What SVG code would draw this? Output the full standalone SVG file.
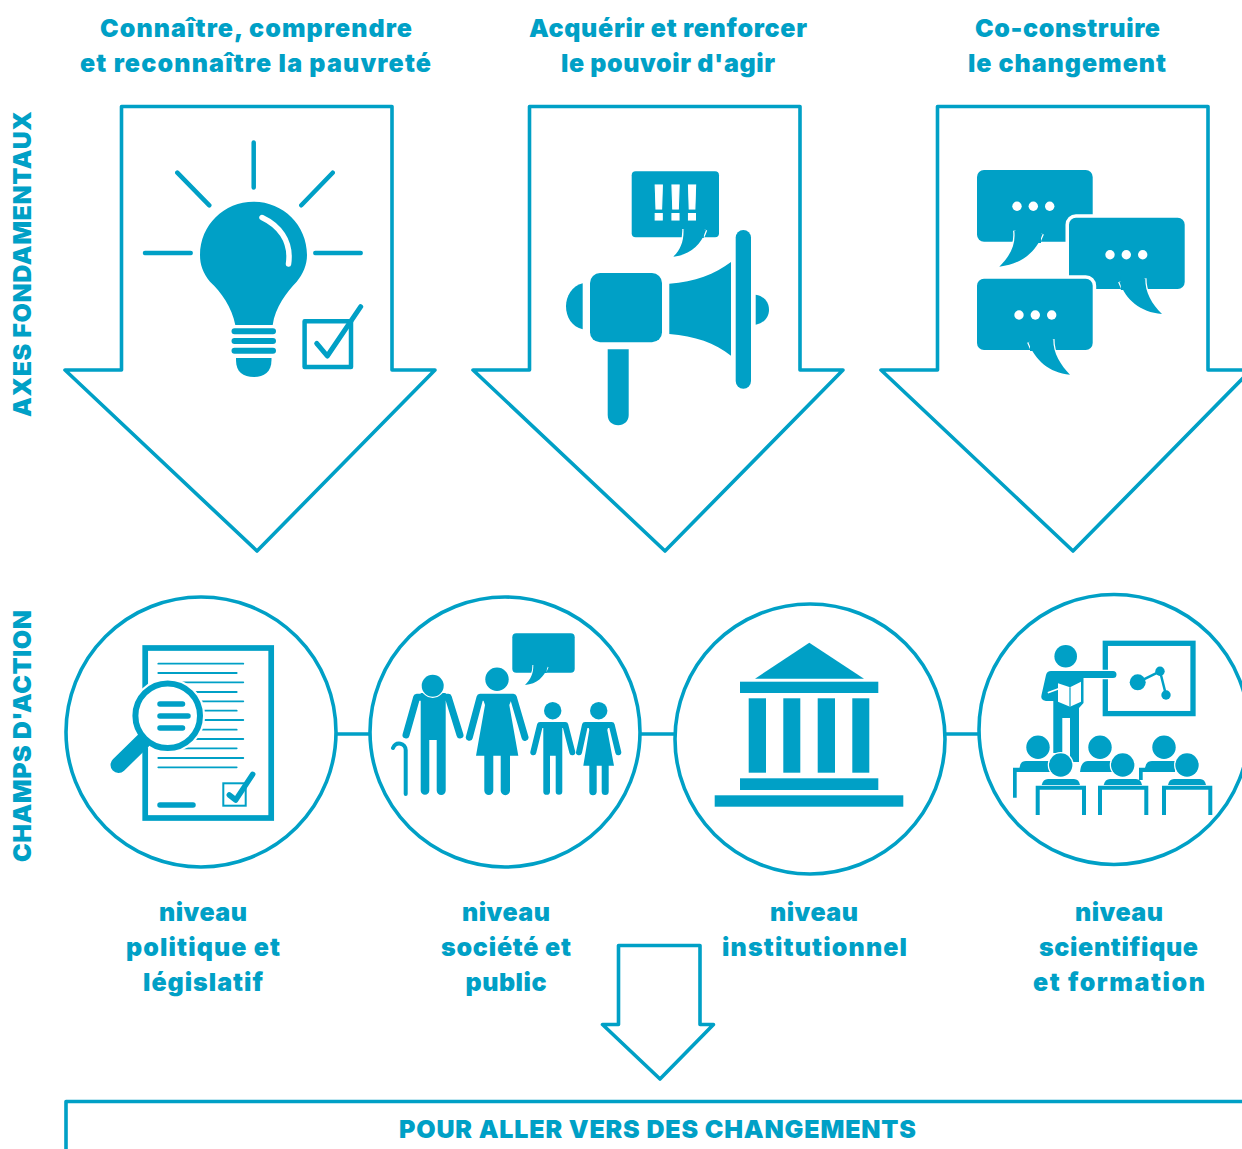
<svg xmlns="http://www.w3.org/2000/svg" width="1242" height="1149" viewBox="0 0 1242 1149">
<style>
text{font-family:"Inter","Lato","Liberation Sans",sans-serif;font-weight:900;fill:#00a0c6;text-anchor:middle}
.t{font-size:25px}
.s{font-size:25px}
.o{fill:none;stroke:#00a0c6;stroke-width:3.6;stroke-linejoin:round}
.f{fill:#00a0c6}
.l{fill:none;stroke:#00a0c6;stroke-linecap:round;stroke-linejoin:round}
.w{fill:none;stroke:#fff;stroke-linecap:round;stroke-linejoin:round}
.d{fill:#fff}
.h{fill:#00a0c6;stroke:#fff;stroke-width:2.5;paint-order:stroke}
.c{fill:#fff;stroke:#00a0c6;stroke-width:3.6}
</style>
<rect width="1242" height="1149" fill="#fff"/>
<g id="side-labels">
<text class="s" transform="translate(31,264) rotate(-90)" textLength="306" lengthAdjust="spacing">AXES FONDAMENTAUX</text>
<text class="s" transform="translate(31,736) rotate(-90)" textLength="252" lengthAdjust="spacing">CHAMPS D'ACTION</text>
</g>
<g id="connectors">
<path class="o" d="M337 734H369M641 734H674M946 734H978"/>
</g>
<g id="axis-1">
<path class="o" d="M121.500 106.500H392V370H435L257 551L65 370H121.500Z"/>
<text class="t" x="256" y="37" textLength="312" lengthAdjust="spacing">Connaître, comprendre</text>
<text class="t" x="255.500" y="72" textLength="351" lengthAdjust="spacing">et reconnaître la pauvreté</text>
<path class="l" stroke-width="4.500" d="M253.700 142.500V187.500M177.300 172.700L209.300 205.300M332.700 172.700L301.300 205.300M145 253H190.700M315.300 253H360.700"/>
<path class="f" d="M235.300 325C232 307 221 292 210 281.700C203 273 200 265 200 255C200 225 224 201.700 253.700 201.700C283 201.700 307 225 307 255C307 265 303 274 296.700 281.700C287 292 275 307 272.700 325Z"/>
<path class="w" stroke-width="5.500" d="M262 217.500C278 225 292 240 288.500 264"/>
<path class="l" stroke-width="6" d="M234.500 331.300H273M234.500 341H273M234.500 350.700H273"/>
<path class="f" d="M236 358H271.500V360C271.500 372 264 377 254 377C243 377 236 372 236 360Z"/>
<rect x="304.600" y="321.300" width="46.400" height="45.600" fill="none" stroke="#00a0c6" stroke-width="4.500" stroke-linejoin="round"/>
<path class="l" stroke-width="5" d="M316.700 343.300L327.300 356L360.700 306.700"/>
</g>
<g id="axis-2">
<path class="o" d="M529.500 106.500H800V370H843L665 551L473 370H529.500Z"/>
<text class="t" x="668" y="37" textLength="278" lengthAdjust="spacing">Acquérir et renforcer</text>
<text class="t" x="668" y="72" textLength="214" lengthAdjust="spacing">le pouvoir d'agir</text>
<rect class="f" x="631.700" y="171.300" width="87.300" height="66" rx="4"/>
<path class="h" d="M683.500 229C684 242 680 250 673.300 256.700C690 255 701 245 706 230"/>
<path class="f" d="M684.800 227H703.800V238H684.800Z"/>
<text x="675.500" y="220" font-size="50" stroke="#fff" stroke-width="1" style="font-family:'Liberation Sans',sans-serif;font-weight:700;fill:#fff">!!!</text>
<path class="f" d="M582.700 283.300C572 286 566 296 566 306.300C566 317 572 327 582.700 329.300Z"/>
<rect class="f" x="590" y="273" width="72" height="69.300" rx="10"/>
<path class="f" d="M607.700 349.300H628.700V415C628.700 421 624 425.300 618.200 425.300C612 425.300 607.700 421 607.700 415Z"/>
<path class="f" d="M669.300 283.700C695 282 715 274 731 262V355.700C715 343 695 336 669.300 334Z"/>
<rect class="f" x="735.700" y="230" width="15.300" height="158.700" rx="7.600"/>
<path class="f" d="M755.700 294.700C764 296 769 302 769 309.700C769 317 764 323 755.700 324.700Z"/>
</g>
<g id="axis-3">
<path class="o" d="M937.500 106.500H1208V370H1251L1073 551L881 370H937.500Z"/>
<text class="t" x="1067.500" y="37" textLength="185" lengthAdjust="spacing">Co-construire</text>
<text class="t" x="1067" y="72" textLength="198" lengthAdjust="spacing">le changement</text>
<rect class="f" x="977" y="170" width="115.700" height="71.700" rx="7"/>
<path class="h" d="M1014.300 230.700C1016 245 1010 256 999.300 266.700C1022 264 1036 252 1042.700 234"/>
<path class="f" d="M1015.800 229H1041V243H1015.800Z"/>
<circle class="d" cx="1017" cy="206.300" r="4.700"/><circle class="d" cx="1033.300" cy="206.300" r="4.700"/><circle class="d" cx="1049.700" cy="206.300" r="4.700"/>
<rect class="h" style="stroke-width:7" x="1069" y="217.700" width="115.700" height="71.300" rx="7"/>
<path class="h" d="M1119.300 281.700C1126 300 1140 312 1162 314C1152 304 1145 293 1145.300 278.300"/>
<path class="f" d="M1120.800 276H1143.800V290H1120.800Z"/>
<circle class="d" cx="1110" cy="254.700" r="4.700"/><circle class="d" cx="1126.300" cy="254.700" r="4.700"/><circle class="d" cx="1142.700" cy="254.700" r="4.700"/>
<rect class="h" style="stroke-width:7" x="977" y="278.700" width="115.700" height="71.300" rx="7"/>
<path class="h" d="M1028.300 342.300C1035 360 1049 373 1070 374.700C1061 365 1053 354 1053.300 339"/>
<path class="f" d="M1030 337H1052V351H1030Z"/>
<circle class="d" cx="1019" cy="315" r="4.700"/><circle class="d" cx="1035.300" cy="315" r="4.700"/><circle class="d" cx="1051.700" cy="315" r="4.700"/>
</g>
<g id="field-1">
<circle class="c" cx="201" cy="732" r="135"/>
<rect x="145.200" y="648" width="126" height="170" fill="none" stroke="#00a0c6" stroke-width="5.700"/>
<path class="l" stroke-width="1.800" stroke-linecap="butt" d="M158.300 663.700H243.300M158.300 673H236.700M158.300 682.300H243.300M158.300 692H236.700M158.300 701.300H243.300M158.300 710.700H236.700M158.300 720H243.300M158.300 729.700H236.700M158.300 739H243.300M158.300 748.300H236.700M158.300 758H243.300M158.300 767.300H236.700"/>
<circle cx="167.700" cy="715.700" r="37.500" fill="#fff"/>
<path class="l" stroke-width="16" d="M118.500 765L143 741"/>
<circle cx="167.700" cy="715.700" r="32.300" fill="#fff" stroke="#00a0c6" stroke-width="6"/>
<path class="l" stroke-width="5.500" d="M160 704H182.500M160 716H188M160 728H182.500M160 805H193"/>
<rect x="223.300" y="783.300" width="22.400" height="22.400" fill="none" stroke="#00a0c6" stroke-width="2"/>
<path class="l" stroke-width="5.500" d="M229.300 795L235.700 800L252.700 774.300"/>
<text class="t" x="203" y="921" textLength="88" lengthAdjust="spacing">niveau</text>
<text class="t" x="203" y="956" textLength="154" lengthAdjust="spacing">politique et</text>
<text class="t" x="203" y="991" textLength="120" lengthAdjust="spacing">législatif</text>
</g>
<g id="field-2">
<circle class="c" cx="505" cy="732" r="135"/>
<rect class="f" x="512.300" y="633.300" width="62.400" height="39.400" rx="4"/>
<path class="h" style="stroke-width:1.800" d="M533.300 665C533.500 673 531 679 525 685C537 684 544 677 547.700 667"/>
<path class="f" d="M534.300 664H546.700V673H534.300Z"/>
<path class="l" stroke-width="4" d="M405.700 794V750C405.700 743 396 741 393 748"/>
<path class="f" d="M420.700 693H445.700V790.500A4.300 4.300 0 0 1 436.700 790.500V740H429.300V790.500A4.300 4.300 0 0 1 420.700 790.500Z"/>
<path class="l" stroke-width="7" d="M406 735L416.700 697.300H448.300L460 735"/>
<circle class="h" cx="432.700" cy="685.700" r="11"/>
<circle class="f" cx="497" cy="679.300" r="11.700"/>
<path class="f" d="M481.700 695.300H513.300L509.300 705L518.300 755.700H510V790.500A4.600 4.600 0 0 1 500.700 790.500V755.700H493.300V790.500A4.500 4.500 0 0 1 484.300 790.500V755.700H476L485 705Z"/>
<path class="l" stroke-width="7" d="M469.300 737.300L480 697.300H513.300L525 737.300"/>
<circle class="f" cx="552.700" cy="710.700" r="8.700"/>
<path class="f" d="M543.300 722H562.300V791.500A3.300 3.300 0 0 1 555.700 791.500V755.700H550V791.500A3.300 3.300 0 0 1 543.300 791.500Z"/>
<path class="l" stroke-width="6" d="M533.300 752.300L540 725H565.300L572.300 752.300"/>
<circle class="f" cx="598.700" cy="710.700" r="8.700"/>
<path class="f" d="M587.300 722H610L607.300 730L614 765.700H608.700V791.500A3.500 3.500 0 0 1 601.700 791.500V765.700H596.700V791.500A3.700 3.700 0 0 1 589.300 791.500V765.700H583.300L589.300 730Z"/>
<path class="l" stroke-width="6" d="M579 752.300L585 725H611.700L618.300 752.300"/>
<text class="t" x="506" y="921" textLength="88" lengthAdjust="spacing">niveau</text>
<text class="t" x="506" y="956" textLength="130" lengthAdjust="spacing">société et</text>
<text class="t" x="506" y="991" textLength="81" lengthAdjust="spacing">public</text>
</g>
<g id="field-3">
<circle class="c" cx="810" cy="739" r="135"/>
<path class="f" d="M809.300 642.700L864 678.700H755Z"/>
<rect class="f" x="740" y="681.700" width="138.300" height="11.300"/>
<rect class="f" x="748.700" y="698.300" width="17.300" height="74.400"/><rect class="f" x="783.300" y="698.300" width="17" height="74.400"/><rect class="f" x="817.700" y="698.300" width="17.300" height="74.400"/><rect class="f" x="852.300" y="698.300" width="17" height="74.400"/>
<rect class="f" x="740" y="778.300" width="138.300" height="11.700"/>
<rect class="f" x="714.700" y="795.300" width="188.600" height="11.400"/>
<text class="t" x="814" y="921" textLength="88" lengthAdjust="spacing">niveau</text>
<text class="t" x="814.500" y="956" textLength="185" lengthAdjust="spacing">institutionnel</text>
</g>
<g id="field-4">
<circle class="c" cx="1114" cy="729.500" r="135"/>
<rect x="1105.300" y="643.300" width="87.700" height="70.300" fill="none" stroke="#00a0c6" stroke-width="5.300"/>
<path class="l" stroke-width="2.500" d="M1137.700 682.300L1160 671.300L1166 695"/>
<circle class="f" cx="1137.700" cy="682.300" r="8"/><circle class="f" cx="1160" cy="671.300" r="4.700"/><circle class="f" cx="1166" cy="695" r="4.700"/>
<circle class="f" cx="1065.700" cy="656.300" r="11.300"/>
<circle class="f" cx="1038" cy="747.300" r="11.700"/><circle class="f" cx="1100" cy="747.300" r="11.700"/><circle class="f" cx="1164" cy="747.300" r="11.700"/>
<path class="f" d="M1013 767.700H1019.500Q1020 761 1026 761H1052V772H1016.700V797.700H1013Z"/>
<path class="f" d="M1080 772Q1081 761 1088 761H1112V772Z"/>
<path class="f" d="M1139 767.700H1145Q1146 761 1152 761H1175V772H1142.700V780H1139Z"/>
<path class="h" d="M1051 671H1113A3.500 3.500 0 0 1 1113 678H1083.500V703L1079 708V762H1070V718H1062.300V753H1053.300V701H1046Q1040 700 1041.500 695L1046 675Q1047 671 1051 671Z"/>
<path class="d" d="M1058 683.300L1070 687.300L1081 681.700V701.700L1070 706.700L1058 701.700Z"/>
<path stroke="#00a0c6" stroke-width="1.200" d="M1070 687.300V706.700"/>
<path class="w" stroke-width="1.800" d="M1048.500 692.500L1058 689"/>
<circle class="h" cx="1060.700" cy="765" r="11.700"/><circle class="h" cx="1122.700" cy="765" r="11.700"/><circle class="h" cx="1187" cy="765" r="11.700"/>
<path class="f" d="M1041.700 785Q1043 779 1048 779H1074Q1079 779 1080 785Z"/>
<path class="f" d="M1103.700 785Q1105 779 1110 779H1136Q1141 779 1142 785Z"/>
<path class="f" d="M1168 785Q1169 779 1174 779H1200Q1205 779 1206 785Z"/>
<path class="o" style="stroke-width:4;stroke-linejoin:miter" d="M1037.700 815V787.800H1084V815M1100 815V787.800H1146.300V815M1164 815V787.800H1210.300V815"/>
<text class="t" x="1119" y="921" textLength="88" lengthAdjust="spacing">niveau</text>
<text class="t" x="1118.500" y="956" textLength="159" lengthAdjust="spacing">scientifique</text>
<text class="t" x="1119" y="991" textLength="172" lengthAdjust="spacing">et formation</text>
</g>
<g id="down-arrow">
<path class="o" d="M618.500 945.500H700V1024.500H713.500L660 1079L602.500 1024.500H618.500Z"/>
</g>
<g id="outcome">
<path class="o" d="M66 1149V1101.500H1242"/>
<text class="s" x="657.500" y="1138" textLength="517" lengthAdjust="spacing">POUR ALLER VERS DES CHANGEMENTS</text>
</g>
</svg>
